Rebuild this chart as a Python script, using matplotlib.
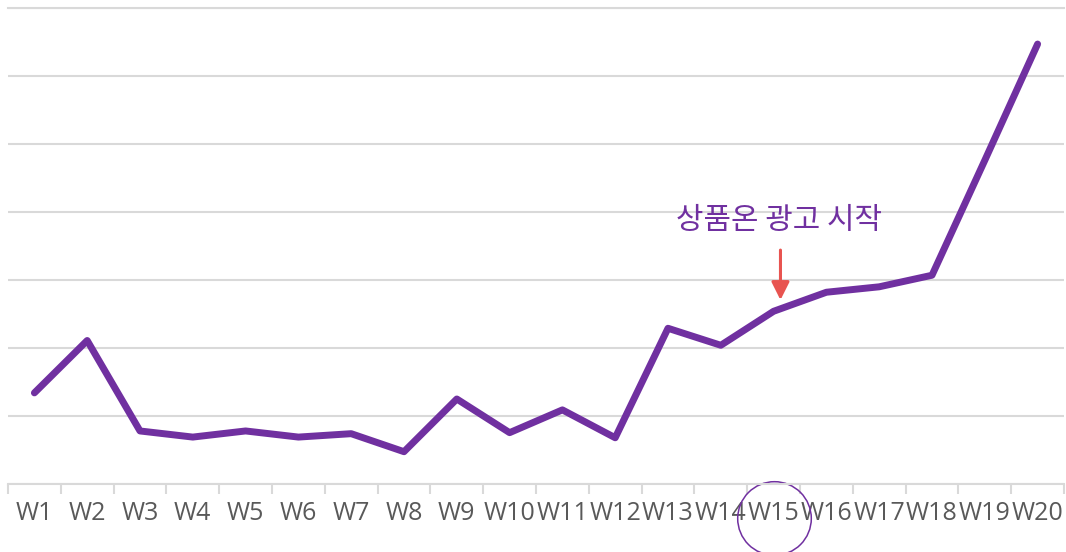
import matplotlib
matplotlib.use("Agg")
import matplotlib.pyplot as plt
import matplotlib.transforms as mtransforms
import numpy as np

# Data mingguan
weeks = ["W%d" % i for i in range(1, 21)]
values = [13.4, 21.1, 7.8, 6.9, 7.8, 6.9, 7.4, 4.75, 12.5, 7.55,
          10.9, 6.8, 22.9, 20.4, 25.4, 28.2, 29.0, 30.7, 47.6, 64.7]
annot_text = "상품온 광고 시작"
annot_week = "W15"

purple = "#7030A0"
grid_gray = "#D9D9D9"
label_gray = "#595959"
arrow_red = "#E85450"

fig = plt.figure(figsize=(10.66, 5.52), dpi=100)
ax = fig.add_axes([8 / 1066, 68 / 552, 1056 / 1066, 476 / 552])

x = np.arange(len(weeks))
ax.plot(x, values, color=purple, lw=5, solid_capstyle="round",
        solid_joinstyle="round", zorder=3)

ax.set_xlim(-0.5, len(weeks) - 0.5)
ax.set_ylim(0, 70)
ax.set_yticks(np.arange(0, 71, 10))
ax.yaxis.grid(True, color=grid_gray, lw=1.5)
ax.set_axisbelow(True)
ax.tick_params(axis="y", left=False, labelleft=False)

# label di tengah kategori, tanda centang di batas kategori
ax.set_xticks(x)
ax.set_xticklabels(weeks, fontsize=18, color=label_gray, family="Open Sans")
ax.set_xticks(np.arange(-0.5, len(weeks), 1), minor=True)
ax.tick_params(axis="x", which="major", length=0, pad=12)
ax.tick_params(axis="x", which="minor", length=7, width=1.5, color=grid_gray)

for s in ["left", "right"]:
    ax.spines[s].set_visible(False)
for s in ["top", "bottom"]:
    ax.spines[s].set_color(grid_gray)
    ax.spines[s].set_linewidth(1.5)

# anotasi
i = weeks.index(annot_week)
v = values[i]
ax.annotate("", xy=(i + 0.13, v + 1.66), xytext=(i + 0.13, v + 9.0),
            arrowprops=dict(arrowstyle="-|>", color=arrow_red, lw=2.2,
                            mutation_scale=27, shrinkA=0, shrinkB=0))
ax.text(i + 0.1, v + 13.3, annot_text, ha="center", va="center",
        fontsize=21.5, color=purple, fontweight="medium",
        family=["Noto Sans CJK KR", "DejaVu Sans"])

# lingkaran di sekitar label minggu
trans = mtransforms.blended_transform_factory(ax.transData, ax.transAxes)
ax.plot([i], [-0.0714], marker="o", markersize=53, mfc="none", mec=purple,
        mew=1.1, transform=trans, clip_on=False)

fig.savefig("out.png", dpi=100)
